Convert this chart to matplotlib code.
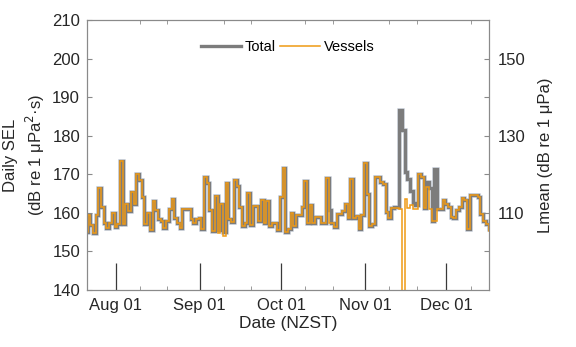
import matplotlib
matplotlib.use('Agg')
import matplotlib.pyplot as plt
import matplotlib.dates as mdates
import matplotlib.patheffects as pe
import numpy as np
import pandas as pd

plt.rcParams['font.family'] = ['Liberation Sans', 'DejaVu Sans']

# daily step edges (NZST), one more edge than values
edges = pd.date_range('2019-07-20 14:24', periods=151, freq='D')

total = [155.0, 159.4, 156.8, 154.8, 159.4, 166.5, 161.5, 157.4, 156.0, 157.2,
         160.0, 156.2, 157.0, 173.3, 157.0, 162.2, 160.5, 165.4, 162.2, 170.0,
         168.5, 164.2, 157.0, 160.0, 155.6, 163.1, 160.7, 158.3, 157.9, 156.0,
         157.8, 160.9, 163.5, 158.5, 157.4, 156.0, 160.9, 160.9, 160.9, 158.3,
         157.4, 158.3, 158.7, 155.9, 169.2, 167.6, 160.7, 155.2, 164.4, 155.5,
         162.2, 155.1, 167.8, 158.3, 157.7, 168.5, 167.0, 161.5, 156.5, 157.2,
         165.0, 156.8, 161.8, 161.8, 157.9, 163.3, 157.4, 163.1, 156.5, 157.4,
         157.4, 155.5, 164.2, 171.7, 155.0, 155.9, 159.8, 156.5, 159.5, 159.5,
         161.6, 168.3, 157.2, 161.9, 157.4, 159.0, 159.0, 157.2, 157.2, 169.0,
         160.7, 157.2, 156.4, 159.7, 159.7, 160.5, 162.2, 158.5, 168.7, 158.5,
         159.2, 155.9, 159.4, 172.8, 164.8, 156.5, 157.0, 169.4, 169.2, 168.0,
         167.4, 160.3, 158.5, 161.1, 161.4, 161.4, 186.7, 181.6, 170.6, 168.7,
         165.7, 162.6, 162.0, 170.0, 169.4, 161.1, 168.0, 166.5, 157.9, 171.3,
         160.9, 160.9, 163.3, 162.3, 161.5, 159.0, 158.5, 160.7, 161.4, 163.7,
         163.3, 155.9, 164.6, 164.6, 164.6, 164.0, 159.7, 157.9, 157.0, 155.7]

vessels = [155.0, 159.4, 156.8, 154.8, 159.4, 166.5, 161.5, 157.4, 156.0, 157.2,
           160.0, 156.2, 157.0, 173.3, 157.0, 162.2, 160.5, 165.4, 162.2, 170.0,
           168.5, 164.2, 157.0, 160.0, 155.6, 163.1, 160.7, 158.3, 157.9, 156.0,
           157.8, 160.9, 163.5, 158.5, 157.4, 156.0, 160.9, 160.9, 160.9, 158.3,
           157.4, 158.3, 158.7, 155.9, 169.2, 167.6, 160.7, 155.2, 164.4, 154.8,
           162.2, 154.0, 167.8, 158.3, 157.7, 168.5, 167.0, 161.5, 156.5, 157.2,
           165.0, 156.8, 161.8, 161.8, 157.9, 163.3, 157.4, 163.1, 156.5, 157.4,
           157.4, 155.5, 164.2, 171.7, 155.0, 155.9, 159.8, 156.5, 159.5, 159.5,
           161.6, 168.3, 157.2, 161.9, 157.4, 159.0, 159.0, 157.2, 157.2, 169.0,
           157.2, 157.2, 156.4, 159.7, 159.7, 160.5, 162.2, 158.5, 168.7, 158.5,
           159.2, 155.9, 159.4, 172.8, 164.8, 156.5, 157.0, 169.4, 169.2, 168.0,
           167.4, 160.3, 158.5, 161.1, 161.1, 161.1, 161.0, 100.0, 163.5, 161.1,
           162.0, 160.9, 160.9, 170.0, 169.4, 161.1, 166.7, 161.0, 157.9, 157.9,
           160.9, 160.9, 163.3, 162.3, 161.5, 159.0, 158.5, 160.7, 161.4, 163.7,
           163.3, 155.9, 164.6, 164.6, 164.6, 164.0, 159.7, 157.9, 157.0, 155.2]

month_starts = pd.to_datetime(['2019-08-01', '2019-09-01', '2019-10-01',
                               '2019-11-01', '2019-12-01'])
tick_days = pd.to_datetime(['2019-08-10', '2019-08-20', '2019-09-10', '2019-09-20',
                            '2019-10-10', '2019-10-20', '2019-11-10', '2019-11-20',
                            '2019-12-10'])
x_range = pd.to_datetime(['2019-07-21 09:36', '2019-12-16 18:00'])

spine_c = '#8a8a8a'
text_c = '#262626'

fig = plt.figure(figsize=(5.76, 3.47), dpi=100)
ax = fig.add_axes([0.151, 0.165, 0.698, 0.777])

x = mdates.date2num(edges)
ax.stairs(total, x, color='#7c7c7c', linewidth=2.4, label='Total',
          path_effects=[pe.Stroke(linewidth=3.4, foreground='#d6dce6'), pe.Normal()])
ax.stairs(vessels, x, color='#EF9A14', linewidth=1.1, label='Vessels')
ax.vlines(mdates.date2num(month_starts), 140, 147, color='#3a3a3a', linewidth=0.9)

ax.set_ylim(140, 210)
ax.set_yticks(np.arange(140, 211, 10))
ax.set_xlim(mdates.date2num(x_range))
ax.set_xticks(mdates.date2num(month_starts))
ax.xaxis.set_major_formatter(mdates.DateFormatter('%b %d'))
ax.set_xticks(mdates.date2num(tick_days), minor=True)

ax.tick_params(axis='both', which='both', direction='in', colors=spine_c,
               labelcolor=text_c, labelsize=12)
ax.tick_params(axis='x', which='both', top=True, length=3)
ax.tick_params(axis='x', which='major', length=0, pad=6)
ax.tick_params(axis='y', length=3.5, pad=5)
for s in ax.spines.values():
    s.set_color(spine_c)

ax.set_xlabel('Date (NZST)', fontsize=12.5, color=text_c, labelpad=2)
ax.set_ylabel('Daily SEL\n(dB re 1 \u03bcPa$^2$\u00b7s)', fontsize=12,
              color=text_c, labelpad=4, linespacing=1.3)

ax2 = ax.twinx()
ax2.set_ylim(90, 160)
ax2.set_yticks(np.arange(100, 151, 10))
ax2.set_yticklabels(['', '110', '', '130', '', '150'])
ax2.tick_params(axis='y', direction='in', length=3.5, pad=6, colors=spine_c,
                labelcolor=text_c, labelsize=12)
for s in ax2.spines.values():
    s.set_color(spine_c)
ax2.set_ylabel('Lmean (dB re 1 \u03bcPa)', fontsize=12, color=text_c, labelpad=9)

leg = ax.legend(loc='center', bbox_to_anchor=(0.5, 0.9), ncol=2, frameon=False,
                fontsize=10.5, handlelength=2.7, columnspacing=0.3, handletextpad=0.3)

fig.savefig('out.png', dpi=100)
